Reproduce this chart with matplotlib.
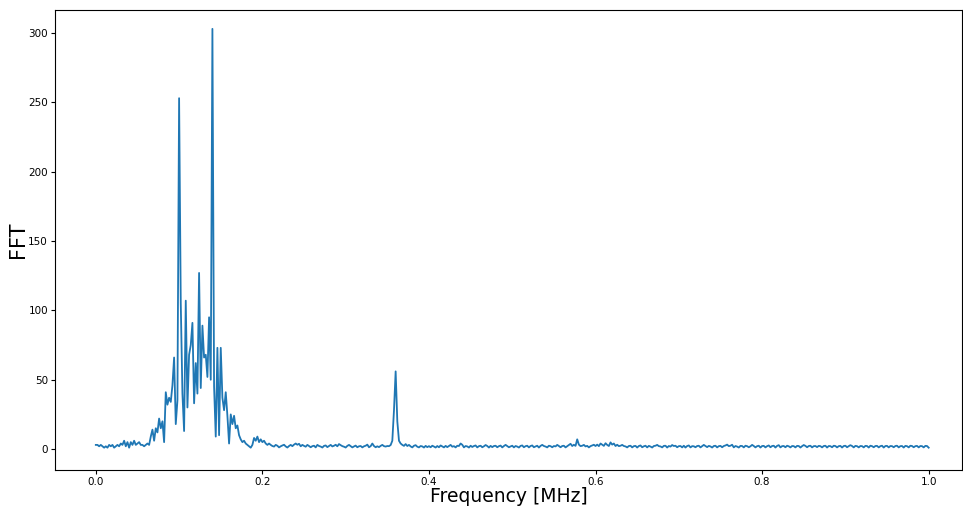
import numpy as np
import matplotlib
matplotlib.use("Agg")
import matplotlib.pyplot as plt

# FFT magnitude, bins every 0.002 MHz from 0.0 to 1.0 MHz
freq_step = 0.002

fft_low = [  # 0.000 - 0.198 MHz
    3, 3, 2, 3, 2, 1, 2, 1, 3, 2,
    3, 1, 2, 3, 2, 4, 3, 6, 2, 5,
    1, 5, 3, 6, 3, 4, 5, 3, 3, 2,
    3, 4, 3, 9, 14, 6, 15, 12, 22, 15,
    20, 5, 41, 32, 37, 34, 46, 66, 18, 35,
    253, 105, 40, 13, 107, 30, 68, 75, 91, 33,
    62, 40, 127, 44, 89, 66, 68, 52, 95, 50,
    303, 45, 9, 73, 10, 73, 37, 28, 41, 24,
    4, 25, 18, 24, 15, 17, 10, 7, 5, 6,
    4, 3, 2, 1, 3, 8, 6, 9, 5, 7,
]

fft_high = [  # 0.200 - 1.000 MHz
    5, 6, 4, 3, 4, 3, 2.2, 1.8, 3, 2.4, 1.2, 2, 2.6, 3.1, 1.9, 1.1, 2.2, 3, 2.1, 3.2,
    4, 3.1, 3.8, 2, 3, 2.3, 1.7, 3, 2.2, 1.3, 2.1, 2.4, 1.2, 3, 2.2, 1.8, 1.1, 2.3, 2.6, 1.4,
    2.2, 3, 1.9, 2.4, 3.1, 2, 3.6, 2.8, 2.1, 1.7, 1.1, 2.3, 3, 2.1, 1.2, 1.9, 2.5, 1.3, 2, 2.2,
    1.2, 2, 2.4, 3.2, 1.3, 2.1, 4, 2.2, 1.3, 2, 1.4, 2.3, 3, 2.1, 1.8, 2.2, 2.1, 2.9, 6, 28,
    56, 20, 6, 4, 3, 2.3, 3.6, 2.2, 3, 1.9, 1.2, 2.4, 2.8, 1.7, 1.2, 2.2, 1.9, 1.1, 2.3, 1.4,
    2.1, 1.3, 2.4, 1.8, 1.1, 2.2, 1.3, 2.6, 1.9, 1.2, 2.3, 1.4, 2.2, 3, 1.7, 2.1, 1.2, 2.4, 2.2, 4,
    3.1, 1.2, 2.2, 1.9, 1.1, 2.4, 1.5, 2.2, 2.6, 1.2, 2.1, 2.4, 1.3, 2, 2.9, 2.2, 1.1, 2.3, 1.4, 2.2,
    2.4, 1.3, 2.1, 2.5, 1.2, 2.2, 3, 2.1, 1.3, 1.9, 2.4, 1.2, 2.2, 1.8, 1.1, 2.3, 2.6, 1.3, 2.1, 2.4,
    1.2, 2.2, 2.6, 1.3, 1.9, 2.4, 1.1, 2.3, 3, 2.2, 1.8, 1.2, 2.4, 2.1, 1.3, 2.2, 1.9, 3, 2.2, 1.3,
    2.2, 2.4, 1.2, 2.1, 3, 3.8, 2.2, 3.1, 2.3, 7, 3.2, 2.1, 2.4, 3, 1.9, 2.3, 1.2, 2.1, 2.6, 3.1,
    2.2, 3.2, 2.1, 4, 3.1, 2.3, 4.2, 3, 2.2, 4.8, 3.2, 4, 2.2, 3.1, 2.1, 2.4, 3, 2.2, 1.9, 1.2,
    2.2, 2.4, 1.2, 2.1, 2.3, 1.1, 2.2, 2.6, 1.3, 2, 2.4, 1.2, 2.3, 1.8, 1.1, 2.2, 2.4, 3, 2.1, 1.9,
    1.2, 2.3, 2.4, 1.1, 2.2, 1.8, 2.9, 2.2, 2.4, 1.3, 2.1, 2.2, 1.2, 2.4, 1.1, 2.2, 2.6, 1.2, 2.1, 2,
    1.3, 2.2, 2.4, 1.2, 2.1, 3, 2.2, 1.4, 2.3, 1.9, 1.1, 2.2, 2.4, 1.2, 2.1, 2.3, 1.3, 2.2, 2.6, 3.2,
    2.1, 2.4, 3.1, 1.2, 2.2, 1.8, 1.1, 2.3, 2.2, 1.2, 2.4, 2.1, 1.3, 2, 3, 2.2, 1.2, 2.1, 2.4, 1.1,
    2.2, 2.3, 1.2, 2.1, 2.6, 1.3, 2.2, 2.4, 1.1, 2.3, 2.8, 1.2, 2.1, 2.2, 1.3, 2.4, 2, 1.2, 2.2, 2.1,
    1.2, 2.3, 2.2, 1.1, 2.1, 2.9, 2.3, 1.3, 2.2, 2.4, 1.2, 2.1, 2.2, 1.4, 2.3, 2.1, 1.2, 2.2, 2.4, 1.1,
    2.2, 2.1, 1.3, 2.4, 2.2, 1.2, 2.1, 2.3, 1.1, 2.2, 2.4, 1.3, 2.1, 2.8, 2.2, 1.2, 2.3, 2.1, 1.2, 2.2,
    2.1, 1.2, 2.3, 2.2, 1.1, 2.4, 2.1, 1.3, 2.2, 2.3, 1.2, 2.1, 2.4, 1.1, 2.2, 2.3, 1.2, 2.2, 2.1, 1.3,
    2.2, 2.4, 1.2, 2.1, 2.2, 1.1, 2.3, 2.1, 1.2, 2.4, 2.2, 1.3, 2.1, 2.3, 1.2, 2.2, 2.1, 1.2, 2.3, 2.2,
    1.0,
]

fft_vals = np.array(fft_low + fft_high, dtype=float)
freqs = np.arange(len(fft_vals)) * freq_step

x_label = "Frequency [MHz]"
y_label = "FFT"

fig = plt.figure(figsize=(9.63, 5.07), dpi=100)
ax = fig.add_axes([55 / 963, 1 - 470 / 507, 907 / 963, 460 / 507])
ax.plot(freqs, fft_vals, color="#1f77b4", linewidth=1.3)
ax.set_xlim(-0.049, 1.040)
ax.set_ylim(-15.1, 316.6)
ax.set_xticks([0.0, 0.2, 0.4, 0.6, 0.8, 1.0])
ax.set_yticks([0, 50, 100, 150, 200, 250, 300])
ax.tick_params(labelsize=7.5, length=3, pad=2)
ax.set_xlabel(x_label, fontsize=13.5)
ax.set_ylabel(y_label, fontsize=15)
ax.xaxis.set_label_coords(0.5, (470 - 487) / 460)
ax.yaxis.set_label_coords((28 - 55) / 907, 0.5)
fig.savefig("out.png", dpi=100)
